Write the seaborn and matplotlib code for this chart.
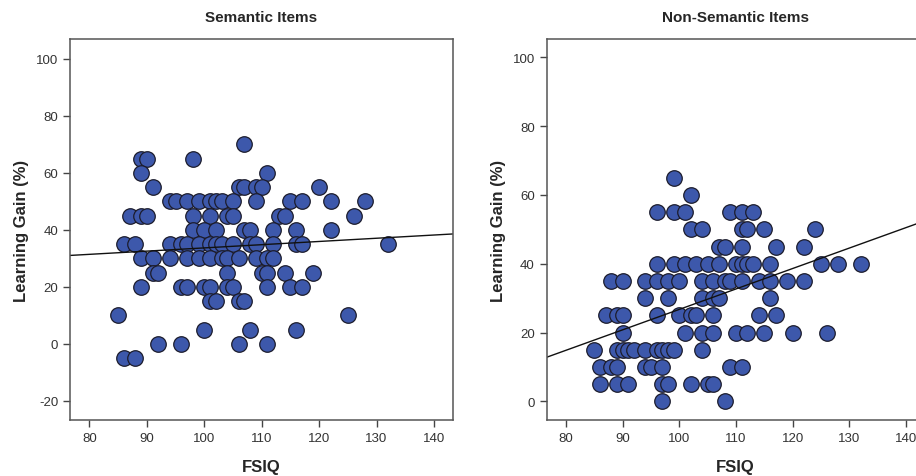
import numpy as np
import pandas as pd
import matplotlib
matplotlib.use('Agg')
import matplotlib.pyplot as plt
import seaborn as sns

# ------------------------------------------------------------
# data: FSIQ values grouped by learning gain
# ------------------------------------------------------------
semantic_rows = {
    70: [107],
    65: [89, 90, 98],
    60: [89, 111],
    55: [91, 106, 107, 109, 110, 120],
    50: [94, 95, 97, 99, 101, 102, 103, 105, 109, 115, 117, 122, 128],
    45: [87, 89, 90, 98, 101, 104, 105, 113, 114, 126],
    40: [98, 100, 102, 107, 108, 112, 116, 122],
    35: [86, 88, 94, 96, 97, 99, 101, 102, 103, 105, 108, 109, 112, 116, 117, 132],
    30: [89, 91, 94, 97, 99, 101, 103, 104, 106, 109, 111, 112],
    25: [91, 92, 104, 110, 111, 114, 119],
    20: [89, 96, 97, 100, 101, 104, 105, 111, 115, 117],
    15: [101, 102, 106, 107],
    10: [85, 125],
    5: [100, 108, 116],
    0: [92, 96, 106, 111],
    -5: [86, 88],
}

nonsemantic_rows = {
    65: [99],
    60: [102],
    55: [96, 99, 101, 109, 111, 113],
    50: [102, 104, 111, 112, 115, 124],
    45: [107, 108, 111, 117, 122],
    40: [96, 99, 101, 103, 105, 107, 110, 111, 112, 113, 116, 125, 128, 132],
    35: [88, 90, 94, 96, 98, 100, 104, 106, 108, 109, 111, 114, 116, 119, 122],
    30: [94, 98, 104, 106, 107, 116],
    25: [87, 89, 90, 96, 100, 102, 103, 106, 114, 117],
    20: [90, 101, 104, 106, 110, 112, 115, 120, 126],
    15: [85, 89, 90, 91, 92, 94, 96, 97, 98, 99, 104],
    10: [86, 88, 89, 94, 95, 97, 109, 111],
    5: [86, 89, 91, 97, 98, 102, 105, 106],
    0: [97, 108],
}


def to_frame(rows):
    recs = [(iq, gain) for gain, iqs in rows.items() for iq in iqs]
    return pd.DataFrame(recs, columns=['FSIQ', 'Gain'])


df_sem = to_frame(semantic_rows)
df_non = to_frame(nonsemantic_rows)

sns.set_style('ticks')
plt.rcParams['font.family'] = ['Liberation Sans', 'DejaVu Sans']
plt.rcParams['axes.unicode_minus'] = False

fig = plt.figure(figsize=(9.16, 4.77), dpi=100)
ax1 = fig.add_axes([0.0764, 0.1174, 0.418, 0.7987])
ax2 = fig.add_axes([0.5968, 0.1174, 0.4127, 0.7987])

panels = [
    (ax1, df_sem, 'Semantic Items', (-26.7, 107), [-20, 0, 20, 40, 60, 80, 100]),
    (ax2, df_non, 'Non-Semantic Items', (-5.4, 105.3), [0, 20, 40, 60, 80, 100]),
]

for ax, d, title, ylim, yticks in panels:
    ax.set_xlim(76.6, 143.3)
    ax.set_ylim(*ylim)
    sns.regplot(data=d, x='FSIQ', y='Gain', ax=ax, ci=None, truncate=False,
                scatter_kws=dict(s=125, color='#3D58AB', edgecolor='#1c1c2c',
                                 linewidths=0.9, alpha=1),
                line_kws=dict(color='#111111', lw=1.0))
    ax.set_xlim(76.6, 143.3)
    ax.set_ylim(*ylim)
    ax.set_xticks([80, 90, 100, 110, 120, 130, 140])
    ax.set_yticks(yticks)
    ax.tick_params(axis='both', direction='out', length=5, width=1,
                   color='#444444', labelcolor='#333333', labelsize=9.5)
    for sp in ax.spines.values():
        sp.set_visible(True)
        sp.set_color('#555555')
        sp.set_linewidth(1.1)
    ax.set_title(title, fontsize=11, fontweight='bold', pad=13)
    ax.set_xlabel('FSIQ', fontsize=12, fontweight='bold', labelpad=11)
    ax.set_ylabel('Learning Gain (%)', fontsize=12, fontweight='bold', labelpad=5)

fig.savefig('out.png', dpi=100)
